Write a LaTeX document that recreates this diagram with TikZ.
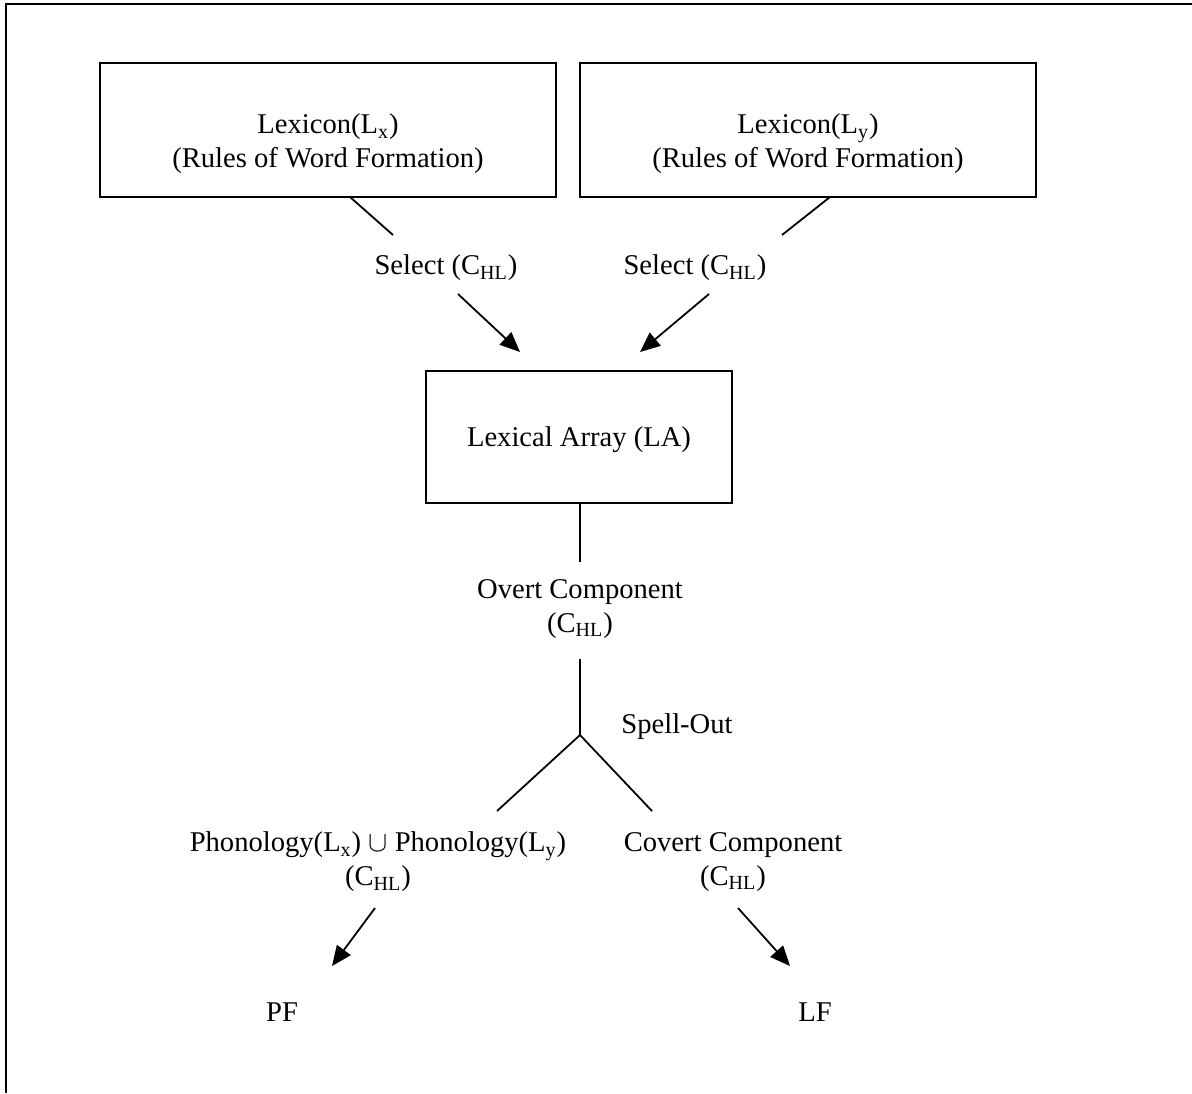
\documentclass[tikz,border=0pt]{standalone}
\usepackage{fontspec}
\setmainfont{Liberation Serif}
\usetikzlibrary{arrows.meta,calc}
\newcommand{\lsub}[1]{\textsubscript{#1}}
\begin{document}
\begin{tikzpicture}[x=0.5pt,y=-0.5pt,
  every node/.style={font=\fontsize{14.3}{17}\selectfont, align=center, inner sep=0pt},
  boxnode/.style={draw, line width=1pt, minimum width=228pt, minimum height=67pt},
  conn/.style={line width=0.9pt},
  arr/.style={line width=0.9pt, -{Triangle[length=10pt,width=8.5pt]}}]
\useasboundingbox (0,0) rectangle (1192,1093);
% outer frame (cropped on right and bottom)
\draw[line width=1.4pt] (1192,4) -- (6,4) -- (6,1093);
% nodes
\node[boxnode] (box1) at (328,130) {};
\node (box1text) at (328,144) {Lexicon(L\lsub{x})\\(Rules of Word Formation)};
\node[boxnode] (box2) at (808,130) {};
\node (box2text) at (808,144) {Lexicon(L\lsub{y})\\(Rules of Word Formation)};
\node (sel1) at (446,268) {Select (C\lsub{HL})};
\node (sel2) at (695,268) {Select (C\lsub{HL})};
\node[draw, line width=1pt, minimum width=153pt, minimum height=66pt] (la) at (579,437) {};
\node (latext) at (579,440) {Lexical Array (LA)};
\node (overt) at (580,609) {Overt Component\\(C\lsub{HL})};
\coordinate (split) at (580,735);
\node (spell) at (677,727) {Spell-Out};
\node (phon) at (378,862) {Phonology(L\lsub{x}) $\cup$ Phonology(L\lsub{y})\\(C\lsub{HL})};
\node (covert) at (733,862) {Covert Component\\(C\lsub{HL})};
\node (pf) at (282,1012) {PF};
\node (lf) at (815,1012) {LF};
% connectors
\draw[conn] ([shift={(22,67)}]box1.center) -- ([shift={(-53,-33)}]sel1.center);
\draw[arr] ([shift={(12,26)}]sel1.center) -- ([shift={(-59,-85)}]la.center);
\draw[conn] ([shift={(22,67)}]box2.center) -- ([shift={(87,-33)}]sel2.center);
\draw[arr] ([shift={(14,26)}]sel2.center) -- ([shift={(61,-85)}]la.center);
\draw[conn] ([shift={(1,66)}]la.center) -- ([shift={(0,-47)}]overt.center);
\draw[conn] ([shift={(0,50)}]overt.center) -- (split);
\draw[conn] (split) -- ([shift={(119,-51)}]phon.center);
\draw[conn] (split) -- ([shift={(-81,-51)}]covert.center);
\draw[arr] ([shift={(-3,46)}]phon.center) -- ([shift={(50,-46)}]pf.center);
\draw[arr] ([shift={(5,46)}]covert.center) -- ([shift={(-25,-46)}]lf.center);
\end{tikzpicture}
\end{document}
